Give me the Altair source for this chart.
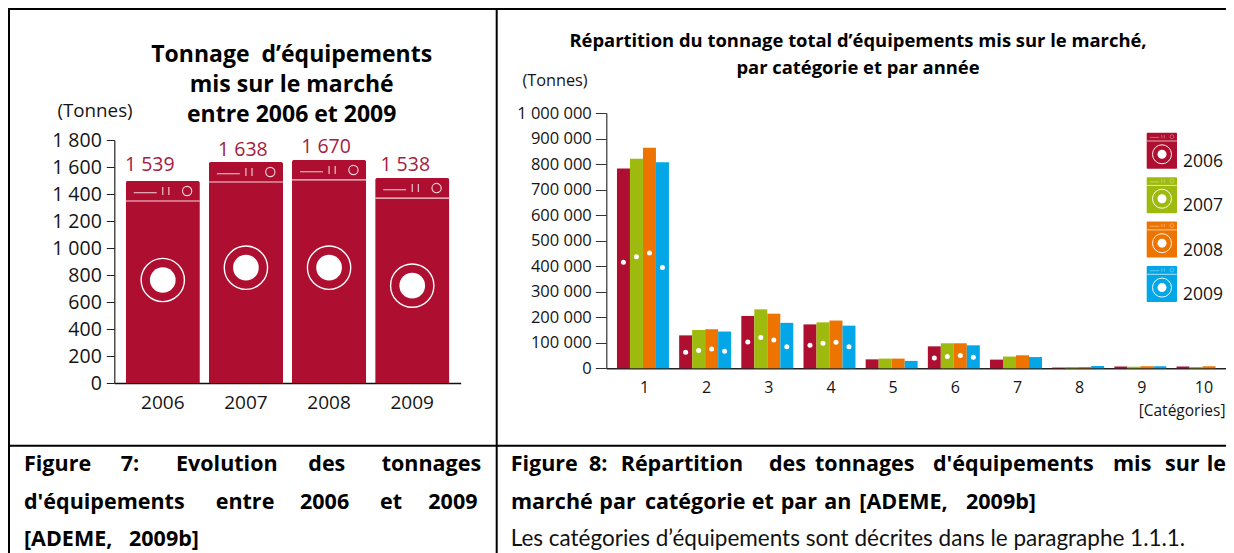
import altair as alt
import pandas as pd

# ---------- Figure 7 values ----------
years_a = ["2006", "2007", "2008", "2009"]
tons_bar = [1496, 1637, 1652, 1518]
tons_labels = ["1 539", "1 638", "1 670", "1 538"]
tons_label_pos = [1615, 1726, 1748, 1617]
controls_pos = [1422, 1563, 1578, 1444]
lid_pos = [1348, 1489, 1504, 1370]
drum_pos = [763, 854, 854, 721]

# ---------- Figure 8 values ----------
categories = ["1", "2", "3", "4", "5", "6", "7", "8", "9", "10"]
years_b = ["2006", "2007", "2008", "2009"]
v2006 = [783000, 129000, 205000, 172000, 35000, 86000, 34000, 3000, 7000, 7000]
v2007 = [821000, 150000, 231000, 180000, 38000, 98000, 46000, 5000, 6000, 5000]
v2008 = [864000, 153000, 214000, 187000, 38000, 98000, 51000, 5000, 8000, 8000]
v2009 = [807000, 144000, 178000, 167000, 29000, 90000, 44000, 9000, 8000, 0]
dot_categories = ["1", "2", "3", "4", "6"]
d2006 = [415000, 63000, 103000, 90000, 40000]
d2007 = [437000, 70000, 121000, 98000, 46000]
d2008 = [452000, 76000, 111000, 102000, 50000]
d2009 = [395000, 67000, 84000, 84000, 43000]
palette = ["#AE0F30", "#9FBA0E", "#EE7402", "#03A6E6"]

title_a = ["Tonnage\u00a0 d’équipements", "mis sur le marché", "entre 2006 et 2009"]
title_b = ["Répartition du tonnage total d’équipements mis sur le marché,",
           "par catégorie et par année"]

CRIMSON = "#AE0F30"
FONT = "Open Sans"
CAP = "Lato"
CAPB = "Open Sans"
CAPSIZE = 21.5
INK = "#141414"
CONTROLS = ("M-1 0.06L-0.21 0.06M0 -0.14L0 0.14M0.21 -0.14L0.21 0.14"
            "M0.68 0A0.16 0.16 0 1 0 1 0A0.16 0.16 0 1 0 0.68 0")
DASH = "M-1 0L1 0"
SPACED = "replace(format(datum.value, ','), /,/g, ' ')"


def txt(s, x, y, size, font=FONT, weight="normal", align="left",
        baseline="alphabetic", color=INK):
    return (
        alt.Chart(pd.DataFrame({"t": [s]}))
        .mark_text(font=font, fontSize=size, fontWeight=weight, align=align,
                   baseline=baseline, color=color)
        .encode(x=alt.value(x - 8), y=alt.value(y - 8), text="t:N")
    )


def hline(x0, x1, y):
    return alt.Chart(pd.DataFrame({"a": [0]})).mark_rule(color="#000", strokeWidth=2).encode(
        x=alt.value(x0 - 8), x2=alt.value(x1 - 8), y=alt.value(y - 8))


def vline(x, y0, y1):
    return alt.Chart(pd.DataFrame({"a": [0]})).mark_rule(color="#000", strokeWidth=2).encode(
        x=alt.value(x - 8), y=alt.value(y0 - 8), y2=alt.value(y1 - 8))


# ---------- Figure 7 panel ----------
df_a = pd.DataFrame({"year": years_a, "v": tons_bar, "ctl": controls_pos,
                     "lid": lid_pos, "drum": drum_pos})
xa = alt.X("year:N", scale=alt.Scale(domain=years_a, range=[106.3, 452.7],
                                     paddingInner=0.108, paddingOuter=0.137),
           axis=alt.Axis(title=None, orient="bottom", offset=-170, labelAngle=0, tickSize=0,
                         labelFont=FONT, labelFontSize=19, labelColor=INK, labelPadding=10,
                         domainColor="#111", domainWidth=1.6, grid=False))
ya = alt.Y("v:Q", scale=alt.Scale(domain=[0, 1800], range=[375, 132], nice=False),
           axis=alt.Axis(title=None, orient="left", offset=-106.3, values=list(range(0, 2000, 200)),
                         labelExpr=SPACED, labelFont=FONT, labelFontSize=19.5, labelColor=INK,
                         labelPadding=5, tickSize=8, tickColor="#222", domainColor="#222",
                         domainWidth=1.2, grid=False))
base_a = alt.Chart(df_a)
bars_a = base_a.mark_bar(color=CRIMSON, cornerRadiusTopLeft=2, cornerRadiusTopRight=2).encode(x=xa, y=ya)
lid_a = base_a.mark_point(shape=DASH, size=74 ** 2, color="#F3D5DB", strokeWidth=1.2, opacity=1).encode(
    x=alt.X("year:N"), y=alt.Y("lid:Q"))
ctl_a = base_a.mark_point(shape=CONTROLS, size=58 ** 2, color="#F3D5DB", strokeWidth=1.1, opacity=1).encode(
    x=alt.X("year:N"), y=alt.Y("ctl:Q"))
ring_a = base_a.mark_point(shape="circle", size=43.3 ** 2, color="#FFFFFF", filled=False,
                           strokeWidth=1.4, opacity=1).encode(x=alt.X("year:N"), y=alt.Y("drum:Q"))
disc_a = base_a.mark_circle(size=25.7 ** 2, color="#FFFFFF", opacity=1).encode(
    x=alt.X("year:N"), y=alt.Y("drum:Q"))
labels_a = []
for i, dx in enumerate((-13, -3, -3, -7)):
    labels_a.append(
        alt.Chart(pd.DataFrame({"year": [years_a[i]], "p": [tons_label_pos[i]], "t": [tons_labels[i]]}))
        .mark_text(font=FONT, fontSize=19.5, color="#A3213F", dx=dx, baseline="middle")
        .encode(x=alt.X("year:N"), y=alt.Y("p:Q"), text="t:N")
    )
panel_a = alt.layer(bars_a, lid_a, ctl_a, ring_a, disc_a, *labels_a)

# ---------- Figure 8 panel ----------
rows = []
for y, vals in zip(years_b, (v2006, v2007, v2008, v2009)):
    rows += [{"cat": c, "year": y, "v": v} for c, v in zip(categories, vals)]
df_b = pd.DataFrame(rows)
dots = []
for y, vals in zip(years_b, (d2006, d2007, d2008, d2009)):
    dots += [{"cat": c, "year": y, "d": v} for c, v in zip(dot_categories, vals)]
df_d = pd.DataFrame(dots)

xb = alt.X("cat:N", scale=alt.Scale(domain=categories, range=[598.3, 1226], paddingInner=0.164,
                                    paddingOuter=0.13, align=0.66),
           axis=alt.Axis(title=None, orient="bottom", offset=-184.7, labelAngle=0, tickSize=0,
                         labelFont=FONT, labelFontSize=16, labelColor=INK, labelPadding=11,
                         labelOffset=1.5, domainColor="#222", domainWidth=1.4, grid=False))
yb = alt.Y("v:Q", scale=alt.Scale(domain=[0, 1000000], range=[360.3, 105], nice=False),
           axis=alt.Axis(title=None, orient="left", offset=-598.3,
                         values=list(range(0, 1100000, 100000)), labelExpr=SPACED,
                         labelFont=FONT, labelFontSize=16.5, labelColor=INK, labelPadding=4,
                         tickSize=11, tickColor="#333", domainColor="#333", domainWidth=1.2, grid=False))
xo = alt.XOffset("year:N", scale=alt.Scale(domain=years_b))
colour = alt.Color("year:N", scale=alt.Scale(domain=years_b, range=palette), legend=None)
bars_b = alt.Chart(df_b).mark_bar().encode(x=xb, xOffset=xo, y=yb, color=colour)
dots_b = alt.Chart(df_d).mark_circle(size=25, color="#FFFFFF", opacity=1).encode(
    x=alt.X("cat:N"), xOffset=xo, y=alt.Y("d:Q"))
panel_b = alt.layer(bars_b, dots_b)

# ---------- Washer legend ----------
df_l = pd.DataFrame({"year": years_b})
yl = alt.Y("year:N", scale=alt.Scale(domain=years_b, range=[124.7, 294], paddingInner=0.19,
                                     paddingOuter=0), axis=None)
base_l = alt.Chart(df_l)
leg_rect = base_l.mark_rect(cornerRadius=1).encode(
    x=alt.value(1138.7), x2=alt.value(1169), y=yl, color=colour)
leg_lid = base_l.mark_point(shape=DASH, size=30 ** 2, color="#FFFFFF", strokeWidth=0.8, opacity=0.85,
                            yOffset=-9.7).encode(x=alt.value(1153.8), y=alt.Y("year:N"))
leg_ctl = base_l.mark_point(shape=CONTROLS, size=24 ** 2, color="#FFFFFF", strokeWidth=0.6, opacity=0.6,
                            yOffset=-14).encode(x=alt.value(1153.8), y=alt.Y("year:N"))
leg_ring = base_l.mark_point(shape="circle", size=19 ** 2, color="#FFFFFF", filled=False, strokeWidth=1,
                             opacity=0.95, yOffset=3.6).encode(x=alt.value(1154), y=alt.Y("year:N"))
leg_disc = base_l.mark_circle(size=9 ** 2, color="#FFFFFF", opacity=1, yOffset=3.6).encode(
    x=alt.value(1154), y=alt.Y("year:N"))
leg_txt = base_l.mark_text(font=FONT, fontSize=17.5, color=INK, align="left", baseline="middle", dy=11).encode(
    x=alt.value(1175), y=alt.Y("year:N"), text="year:N")
panel_l = alt.layer(leg_rect, leg_lid, leg_ctl, leg_ring, leg_disc, leg_txt)

# ---------- Static text and table rules ----------
static = [
    hline(8, 1234, 9), hline(8, 1234, 445.7),
    vline(9, 9, 553), vline(496.7, 9, 553),
    txt(title_a[0], 291.7, 55, 23, weight="bold", align="center", baseline="middle", color="#000"),
    txt(title_a[1], 291.7, 85, 23, weight="bold", align="center", baseline="middle", color="#000"),
    txt(title_a[2], 291.7, 115, 23, weight="bold", align="center", baseline="middle", color="#000"),
    txt(title_b[0], 858, 41, 18.4, weight="bold", align="center", baseline="middle", color="#000"),
    txt(title_b[1], 858, 68, 18.4, weight="bold", align="center", baseline="middle", color="#000"),
    txt("(Tonnes)", 95, 110.7, 18.8, align="center", baseline="middle"),
    txt("(Tonnes)", 555, 80.7, 16.3, align="center", baseline="middle"),
    txt("[Catégories]", 1225.5, 411, 15.5, align="right", baseline="middle"),
]
for word, x in (("Figure", 24), ("7:", 120.7), ("Evolution", 176), ("des", 308.3), ("tonnages", 381.7)):
    static.append(txt(word, x, 470.7, CAPSIZE, font=CAPB, weight="bold", color="#000"))
for word, x in (("d'équipements", 24), ("entre", 215.7), ("2006", 300), ("et", 380), ("2009", 428.3)):
    static.append(txt(word, x, 509, CAPSIZE, font=CAPB, weight="bold", color="#000"))
static.append(txt("[ADEME,", 24, 545.7, CAPSIZE, font=CAPB, weight="bold", color="#000"))
static.append(txt("2009b]", 129, 545.7, CAPSIZE, font=CAPB, weight="bold", color="#000"))
for word, x in (("Figure", 510.7), ("8:", 589), ("Répartition", 620.7), ("des", 769), ("tonnages", 815),
                ("d'équipements", 933), ("mis", 1113), ("sur", 1165), ("le", 1206.7)):
    static.append(txt(word, x, 470.7, CAPSIZE, font=CAPB, weight="bold", color="#000"))
for word, x in (("marché", 511), ("par", 599.3), ("catégorie", 645), ("et", 751.7), ("par", 780.7),
                ("an", 824.3), ("[ADEME,", 859.3), ("2009b]", 966)):
    static.append(txt(word, x, 509, CAPSIZE, font=CAPB, weight="bold", color="#000"))
static.append(txt("Les catégories d’équipements sont décrites dans le paragraphe 1.1.1.", 510.7, 545.7,
                  22.5, font=CAP, color="#111"))

chart = (
    alt.layer(panel_a, panel_b, panel_l, *static)
    .resolve_scale(x="independent", y="independent")
    .properties(width=1218, height=545, autosize=alt.AutoSizeParams(type="none"), padding=0,
                background="#FFFFFF")
    .configure_view(stroke=None)
)
chart.save("out.html", embed_options={"renderer": "svg", "actions": False})
